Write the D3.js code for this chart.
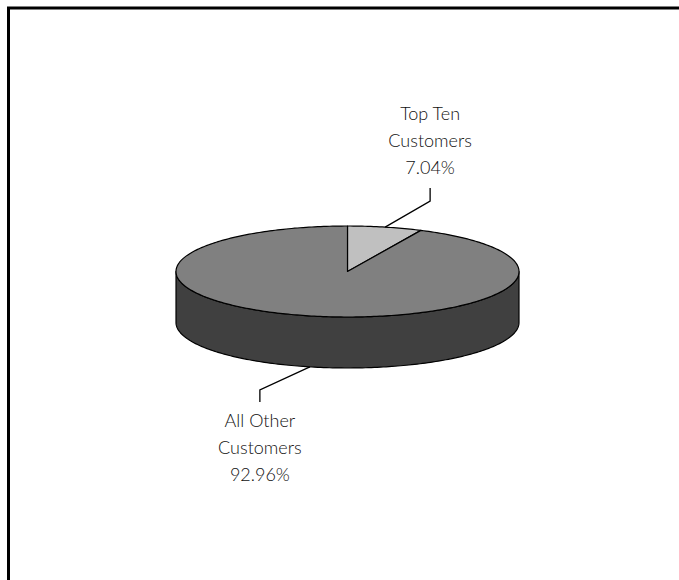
<!DOCTYPE html>
<html>
<head>
<meta charset="utf-8">
<script src="https://cdn.jsdelivr.net/npm/d3@7"></script>
<style>
  html, body { margin: 0; padding: 0; background: #fff; }
  svg { display: block; }
  text { font-family: "Lato", "Liberation Sans", Arial, sans-serif; font-weight: 300; }
</style>
</head>
<body>
<svg id="chart" width="679" height="580"></svg>
<script>
// ---- data ----
const categories = ["Top Ten Customers", "All Other Customers"];
const categoryLines = [["Top Ten", "Customers"], ["All Other", "Customers"]];
const values = [7.04, 92.96];
const percentLabels = ["7.04%", "92.96%"];
const topColors = ["#c0c0c0", "#808080"];
const sideColors = ["#606060", "#404040"];

// ---- layout ----
const W = 679, H = 580;
const cx = 347.5, cy = 271.5, rx = 171.5, ry = 45.5, depth = 51;

const svg = d3.select("#chart");

// frame (extends past right/bottom edges)
svg.append("rect")
  .attr("x", 8.5).attr("y", 8).attr("width", 700).attr("height", 620)
  .attr("fill", "none").attr("stroke", "#000").attr("stroke-width", 3);

const pie = d3.pie().sort(null).value(d => d).startAngle(0).endAngle(2 * Math.PI);
const arcs = pie(values);

// projected ellipse: angle -> point
const px = (a, r = 1) => cx + rx * r * Math.sin(a);
const py = (a, r = 1, dz = 0) => cy - ry * r * Math.cos(a) + dz;

function samples(a0, a1) {
  const n = Math.max(2, Math.ceil((a1 - a0) / (Math.PI / 180)));
  return d3.range(n + 1).map(i => a0 + (a1 - a0) * i / n);
}

const line = d3.line();

// sides (front half only: angles between PI/2 and 3PI/2)
arcs.forEach((d, i) => {
  const lo = Math.max(d.startAngle, Math.PI / 2);
  const hi = Math.min(d.endAngle, 3 * Math.PI / 2);
  if (lo >= hi) return;
  const s = samples(lo, hi);
  const pts = s.map(a => [px(a), py(a)])
    .concat(s.slice().reverse().map(a => [px(a), py(a, 1, depth)]));
  svg.append("path")
    .attr("d", line(pts) + "Z")
    .attr("fill", sideColors[i])
    .attr("stroke", "#000").attr("stroke-width", 1.2)
    .attr("stroke-linejoin", "round");
});

// top faces
arcs.forEach((d, i) => {
  const s = samples(d.startAngle, d.endAngle);
  const pts = [[cx, cy]].concat(s.map(a => [px(a), py(a)]));
  svg.append("path")
    .attr("d", line(pts) + "Z")
    .attr("fill", topColors[i])
    .attr("stroke", "#000").attr("stroke-width", 1.2)
    .attr("stroke-linejoin", "round");
});

// labels with leader lines
const labelCfg = [
  { dx: 45, dy: -26, vlen: -13, firstBaseline: 120 },
  { dx: -50, dy: 23, vlen: 12, firstBaseline: 427 }
];
const lineGap = 27.2;

arcs.forEach((d, i) => {
  const mid = (d.startAngle + d.endAngle) / 2;
  const front = Math.cos(mid) < 0;
  const ax = px(mid), ay = py(mid, 1, front ? depth : 0);
  const c = labelCfg[i];
  const ex = ax + c.dx, ey = ay + c.dy;
  svg.append("path")
    .attr("d", line([[ax, ay], [ex, ey], [ex, ey + c.vlen]]))
    .attr("fill", "none").attr("stroke", "#000").attr("stroke-width", 1.3);

  const lines = categoryLines[i].concat([percentLabels[i]]);
  const t = svg.append("text")
    .attr("text-anchor", "middle")
    .attr("font-size", 18)
    .attr("fill", "#111");
  lines.forEach((s, k) => {
    t.append("tspan").attr("x", ex).attr("y", c.firstBaseline + k * lineGap).text(s);
  });
});
</script>
</body>
</html>
